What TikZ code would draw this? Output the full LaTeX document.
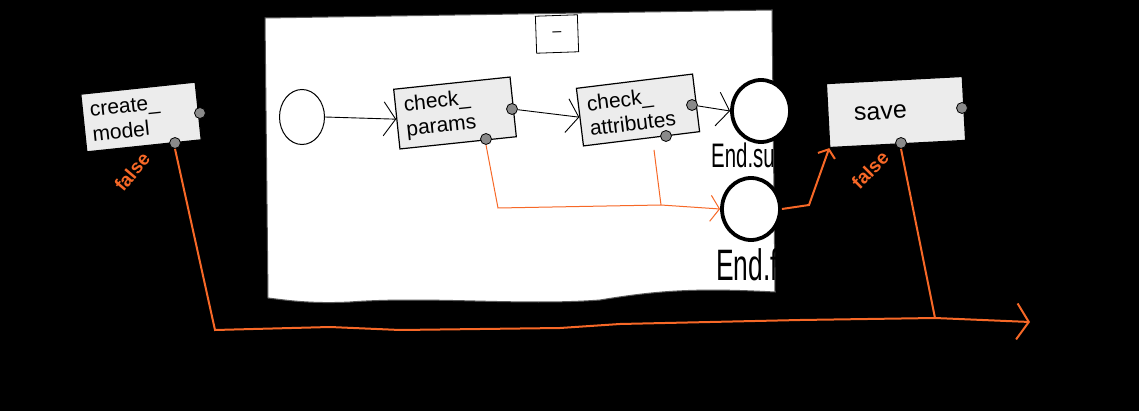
\documentclass[tikz,border=0pt]{standalone}
\usepackage{fontspec}
\setmainfont{Liberation Sans}
\newfontfamily\narrowfont[FakeStretch=0.6]{Liberation Sans}
\usetikzlibrary{arrows.meta,shapes.geometric}
\definecolor{flow}{RGB}{247,104,39}
\definecolor{taskgray}{RGB}{236,236,236}
\definecolor{portgray}{RGB}{138,138,138}
\definecolor{framegray}{RGB}{90,90,90}
\begin{document}
\begin{tikzpicture}[x=1pt,y=-1pt,
  task/.style={draw=black, line width=1.2pt, fill=taskgray, minimum width=115pt,
    minimum height=58pt, text width=100pt, align=left, font=\fontsize{21}{25}\selectfont, inner sep=4pt},
  port/.style={circle, draw=black, line width=0.8pt, fill=portgray, minimum size=11pt, inner sep=0pt},
  seq/.style={draw=black, line width=0.9pt, -{Straight Barb[length=12pt,width=34pt]}},
  flowin/.style={draw=flow, line width=1pt, -{Straight Barb[length=9pt,width=26pt]}},
  flowout/.style={draw=flow, line width=2pt},
  endev/.style={ellipse, draw=black, line width=3.8pt, fill=white, minimum width=58pt,
    minimum height=62pt, inner sep=0pt},
  startev/.style={ellipse, draw=black, line width=1pt, fill=white, minimum width=45pt,
    minimum height=55pt, inner sep=0pt},
  falselbl/.style={text=flow, font=\bfseries\fontsize{19}{21}\selectfont, inner sep=0pt}
]
\useasboundingbox (0,0) rectangle (1139,411);
\fill[black] (0,0) rectangle (1139,411);

% subprocess container
\draw[framegray, line width=1pt, fill=white]
  (265,18) -- (772,10) -- (775,292) .. controls (700,288) and (660,290) .. (600,300)
  .. controls (520,306) and (430,296) .. (350,302) .. controls (310,304) and (285,300) .. (268,298) -- cycle;
\node[draw=black, line width=0.8pt, fill=white, minimum width=42pt, minimum height=37pt, rotate=2,
  font=\fontsize{16}{18}\selectfont] (collapse) at (557,34) {--};

% tasks
\node[task, rotate=6] (cm) at (141,117) {create\_\\model};
\node[task, rotate=6, minimum width=117pt, minimum height=60pt] (cp) at (455,113) {check\_\\params};
\node[task, rotate=7, minimum width=117pt] (ca) at (638,110) {check\_\\attributes};
\node[task, rotate=3, minimum width=136pt, minimum height=64pt, text width=112pt,
  font=\fontsize{25}{29}\selectfont] (sv) at (896,112) {\hspace*{14pt}save};

% ports
\node[port] (cmr) at (200,113) {};
\node[port] (cmb) at (175,143) {};
\node[port] (cpr) at (512,109) {};
\node[port] (cpb) at (486,139) {};
\node[port] (car) at (692,105) {};
\node[port] (cab) at (666,136) {};
\node[port] (svr) at (962,108) {};
\node[port] (svb) at (901,143) {};

% events
\node[startev] (start) at (302,117) {};
\node[endev] (es) at (761,111) {};
\node[endev] (ef) at (751,209) {};
\node[anchor=base west, inner sep=0pt, font=\narrowfont\fontsize{34}{36}\selectfont] (esl) at (711,168) {End.success};
\node[anchor=base west, inner sep=0pt, font=\narrowfont\fontsize{44}{46}\selectfont] (efl) at (716,281) {End.failure};

% sequence flows
\draw[seq] (start.east) -- (cp.west);
\draw[seq] (cpr) -- (ca.west);
\draw[seq] (car) -- (es.west);

% error flows inside
\coordinate (j1) at (498,208);
\coordinate (j2) at (661,205);
\draw[flowin] (cpb.south) -- (j1) -- (j2) -- (ef.west);
\draw[draw=flow, line width=1pt] (cab.south) ++(-12,8) -- (j2);

% outer flows
\coordinate (k1) at (809,205);
\draw[flowout, -{Straight Barb[length=7pt,width=18pt]}] (ef.east) -- (k1) -- (sv.south west);
\coordinate (b1) at (215,330);
\coordinate (b2) at (935,318);
\coordinate (fin) at (1030,322);
\draw[flowout, -{Straight Barb[length=12pt,width=36pt]}] (cmb.south) -- (b1) -- (330,327) -- (400,330)
  -- (560,328) -- (620,324) -- (800,320) -- (b2) -- (fin);
\draw[flowout] (svb.south) -- (b2);

% labels
\node[falselbl, rotate=50] (f1) at (132,172) {false};
\node[falselbl, rotate=45] (f2) at (870,170) {false};
\end{tikzpicture}
\end{document}
